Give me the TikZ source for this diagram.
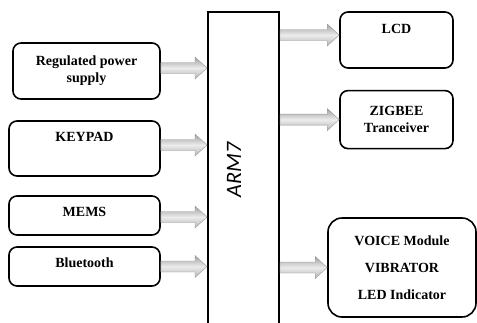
\documentclass[tikz,border=0pt]{standalone}
\usepackage{fontspec}
\setmainfont{Liberation Serif}
\newfontfamily\armfont{Carlito}
\usepackage{tikz}
\usetikzlibrary{calc,positioning}

\newcommand\fatarr[2]{%
  \path (#1) coordinate (fa-s) (fa-s -| #2) coordinate (fa-e);
  \shadedraw[fat] ($(fa-s)+(0,-5.5)$) -- ($(fa-e)+(-12,-5.5)$) -- ($(fa-e)+(-12,-11)$) -- (fa-e)
    -- ($(fa-e)+(-12,11)$) -- ($(fa-e)+(-12,5.5)$) -- ($(fa-s)+(0,5.5)$) -- cycle;}

\begin{document}
\begin{tikzpicture}[x=1pt,y=-1pt,
  blk/.style={draw,line width=1.6pt,rounded corners=8pt,align=center,font=\fontsize{14}{17}\selectfont\bfseries},
  topt/.style={text height=10pt,text depth=24pt},
  upt/.style={text height=10pt,text depth=8pt},
  fat/.style={draw=gray!80,line width=0.4pt,top color=gray!75,bottom color=gray!60,middle color=gray!15}]
\clip (0,0) rectangle (477,322);
\node[blk,minimum width=147pt,minimum height=56pt] (reg) at (86.5,71) {Regulated power\\supply};
\node[blk,topt,minimum width=151pt,minimum height=55pt] (key) at (84.5,148.5) {KEYPAD};
\node[blk,upt,minimum width=151pt,minimum height=39pt] (mems) at (84.5,215.5) {MEMS};
\node[blk,upt,minimum width=151pt,minimum height=39pt] (bt) at (84.5,266.5) {Bluetooth};
\node[draw,line width=2pt,minimum width=71pt,minimum height=328pt] (arm) at (243.5,176) {};
\node[rotate=90,font=\armfont\itshape\fontsize{22}{26}\selectfont] (armt) at (234,170) {ARM7};
\node[blk,topt,minimum width=113pt,minimum height=56pt] (lcd) at (396.5,40) {LCD};
\node[blk,minimum width=113pt,minimum height=58pt,below=21pt of lcd] (zig) {ZIGBEE\\Tranceiver};
\node[blk,rounded corners=14pt,minimum width=148pt,minimum height=99pt] (voice) at (402,267.5) {VOICE Module\\[10pt]VIBRATOR\\[10pt]LED Indicator};
\fatarr{$(reg.east)+(0,-3)$}{arm.west}
\fatarr{$(key.east)+(0,-3.5)$}{arm.west}
\fatarr{$(mems.east)+(0,1.5)$}{arm.west}
\fatarr{bt.east}{arm.west}
\fatarr{$(arm.east|-lcd.west)+(0,-5)$}{lcd.west}
\fatarr{arm.east|-zig.west}{zig.west}
\fatarr{arm.east|-voice.west}{voice.west}
\end{tikzpicture}
\end{document}
